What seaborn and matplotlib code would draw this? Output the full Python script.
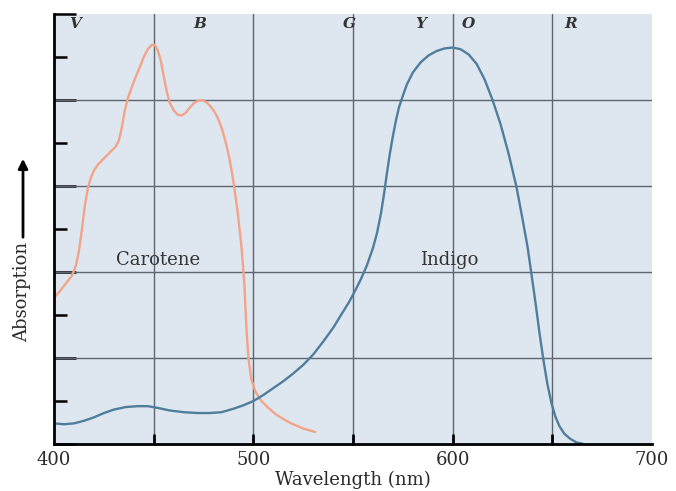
import matplotlib
matplotlib.use("Agg")
import matplotlib.pyplot as plt
import matplotlib.patches as mpatches
import seaborn as sns
from matplotlib.ticker import MultipleLocator, FixedLocator, NullFormatter

# ---------------------------------------------------------------------------
# data (wavelength in nm, absorption in arbitrary units)
# ---------------------------------------------------------------------------
carotene_nm = [400, 403, 406, 409, 411, 412.5, 414, 415.5, 417, 418.5, 420, 422,
               425, 428, 431, 432.5, 434, 435.5, 437, 439, 441, 443, 445, 447,
               449, 450.5, 452, 453.5, 455, 456.5, 458, 460, 462, 464, 466, 468,
               470, 472, 474, 476, 478, 480, 482, 484, 486, 488, 490, 492, 494,
               495.5, 496.5, 497.5, 499, 501, 504, 507.5, 511, 515, 519, 525, 531]
carotene_abs = [1.70, 1.78, 1.87, 1.96, 2.08, 2.25, 2.50, 2.78, 2.98, 3.10, 3.18,
                3.25, 3.32, 3.39, 3.46, 3.53, 3.68, 3.88, 4.02, 4.15, 4.27, 4.38,
                4.50, 4.59, 4.64, 4.64, 4.58, 4.46, 4.28, 4.10, 3.97, 3.88, 3.83,
                3.82, 3.85, 3.91, 3.96, 3.99, 4.00, 3.98, 3.94, 3.88, 3.80, 3.68,
                3.52, 3.32, 3.05, 2.72, 2.30, 1.85, 1.35, 1.00, 0.75, 0.61, 0.50,
                0.42, 0.35, 0.29, 0.24, 0.18, 0.14]

indigo_nm = [400, 405, 410, 415, 420, 425, 430, 436, 442, 447, 452, 458, 465,
             472, 478, 484, 490, 495, 500, 505, 510, 515, 520, 525, 530, 535,
             540, 544.5, 548, 551, 554, 557, 560, 562, 564, 565.5, 567, 568.5,
             570, 571.5, 573, 575, 577, 580, 584, 588, 592, 596, 600, 604, 608,
             612, 616, 620, 624, 628, 632, 635, 637.5, 639.5, 641.5, 643.5,
             645.5, 647.5, 649.5, 651.5, 653.5, 656, 659, 662, 665.6]
indigo_abs = [0.24, 0.23, 0.24, 0.27, 0.31, 0.36, 0.40, 0.43, 0.44, 0.44, 0.42,
              0.39, 0.37, 0.36, 0.36, 0.37, 0.41, 0.45, 0.50, 0.57, 0.65, 0.73,
              0.82, 0.92, 1.04, 1.19, 1.35, 1.52, 1.65, 1.78, 1.92, 2.08, 2.28,
              2.45, 2.68, 2.90, 3.15, 3.38, 3.58, 3.76, 3.91, 4.05, 4.18, 4.32,
              4.44, 4.52, 4.57, 4.60, 4.61, 4.59, 4.53, 4.42, 4.24, 4.00, 3.72,
              3.38, 2.99, 2.62, 2.30, 1.98, 1.65, 1.30, 0.98, 0.70, 0.48, 0.32,
              0.21, 0.12, 0.06, 0.02, 0.00]

band_letters = ['V', 'B', 'G', 'Y', 'O', 'R']
band_nm = [410.5, 473, 548, 584, 608, 659]

curve_names = ['Carotene', 'Indigo']
name_nm = [452, 598.5]
name_abs = [2.14, 2.14]

xtick_labels = [400, 500, 600, 700]

CAROTENE_COLOR = '#f2a488'
INDIGO_COLOR = '#4f7e9c'
GRID_COLOR = '#5e6670'
TEXT_COLOR = '#2a2a2a'

sns.set_style('white')
plt.rcParams['font.family'] = ['DejaVu Serif']

fig = plt.figure(figsize=(6.76, 4.91), dpi=100)
ax = fig.add_axes([0.080, 0.0957, 0.8845, 0.8758])
ax.set_facecolor('#dee7f0')

# grid behind the curves
for x in [450, 500, 550, 600, 650]:
    ax.axvline(x, color=GRID_COLOR, lw=1.0, zorder=1)
for y in [1, 2, 3, 4]:
    ax.axhline(y, color=GRID_COLOR, lw=1.0, zorder=1)

sns.lineplot(x=carotene_nm, y=carotene_abs, color=CAROTENE_COLOR, lw=1.7,
             ax=ax, zorder=3, sort=False)
sns.lineplot(x=indigo_nm, y=indigo_abs, color=INDIGO_COLOR, lw=1.7,
             ax=ax, zorder=3, sort=False)

ax.set_xlim(400, 700)
ax.set_ylim(0, 5)

# spines
for side in ['top', 'right']:
    ax.spines[side].set_visible(False)
for side in ['left', 'bottom']:
    ax.spines[side].set_color('black')
    ax.spines[side].set_linewidth(2)
    ax.spines[side].set_zorder(5)

# ticks
ax.xaxis.set_major_locator(FixedLocator(xtick_labels))
ax.set_xticklabels([str(v) for v in xtick_labels])
ax.xaxis.set_minor_locator(FixedLocator([425, 475, 525, 575, 625, 675]))
ax.yaxis.set_major_locator(MultipleLocator(1))
ax.yaxis.set_minor_locator(MultipleLocator(0.5))
ax.yaxis.set_major_formatter(NullFormatter())
ax.tick_params(axis='x', which='major', direction='in', length=0, pad=5,
               labelsize=13, labelcolor=TEXT_COLOR)
ax.tick_params(axis='x', which='minor', direction='in', length=4, width=1.8,
               color='black')
ax.tick_params(axis='y', which='major', direction='in', length=16, width=1.8,
               color='black', left=True)
ax.tick_params(axis='y', which='minor', direction='in', length=9, width=1.8,
               color='black', left=True)
# longer marks where the vertical grid lines meet the axis
for x in [450, 500, 550, 600, 650]:
    ax.plot([x, x], [0, 0.1], color='black', lw=2, zorder=4, clip_on=False)

ax.set_xlabel('Wavelength (nm)', fontsize=13, color=TEXT_COLOR, labelpad=1)
ax.set_ylabel('')

# band letters along the top
for letter, nm in zip(band_letters, band_nm):
    ax.text(nm, 4.88, letter, ha='center', va='center', fontsize=11,
            fontstyle='italic', fontweight='bold', color='#333333', zorder=4)

# curve names
for name, nm, a in zip(curve_names, name_nm, name_abs):
    ax.text(nm, a, name, ha='center', va='center', fontsize=13,
            color='#333333', zorder=4)

# y axis label with upward arrow
fig.text(22 / 676, 1 - 292 / 491, 'Absorption', rotation=90, ha='center',
         va='center', fontsize=13, color=TEXT_COLOR)
fig.patches.append(mpatches.FancyArrowPatch(
    (23 / 676, 1 - 240 / 491), (23 / 676, 1 - 156 / 491),
    transform=fig.transFigure, arrowstyle='-|>', mutation_scale=14,
    lw=2, color='black'))

fig.savefig('out.png', dpi=100, facecolor='white')
